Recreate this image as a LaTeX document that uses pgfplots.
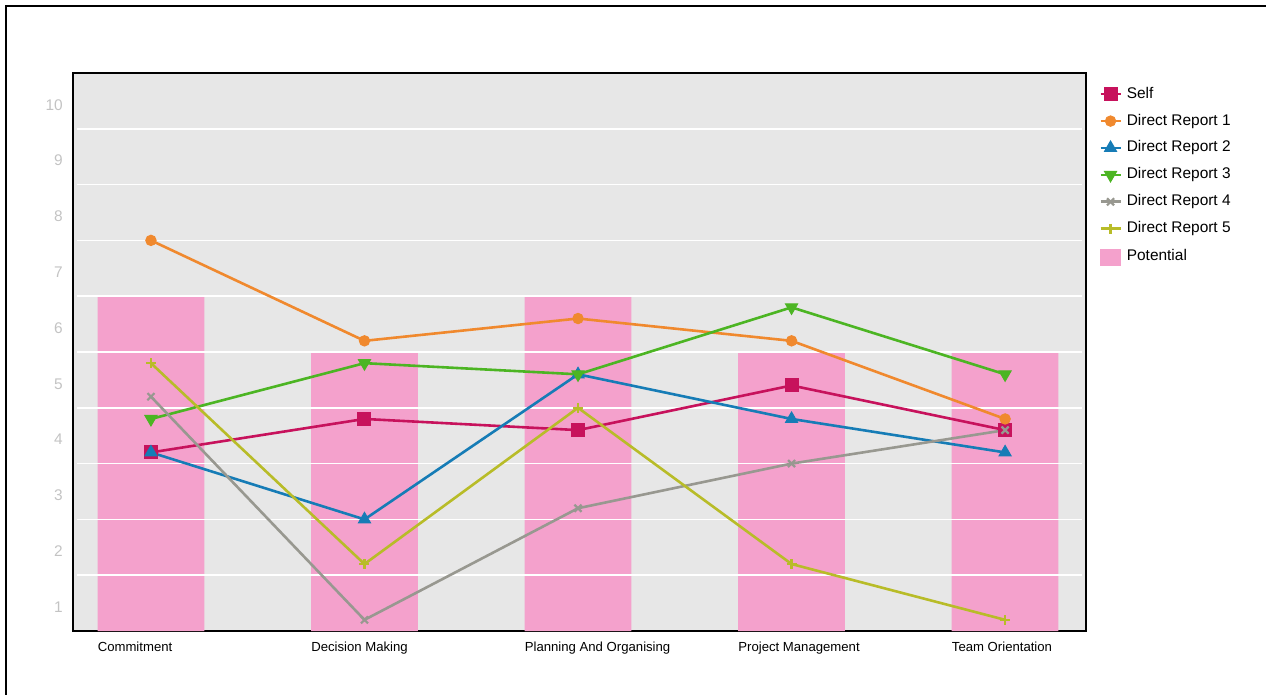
\documentclass[border=0pt]{standalone}
\usepackage{pgfplots}
\pgfplotsset{compat=1.18}
\usepackage{fontspec}
\setmainfont{Liberation Sans}
\definecolor{bgc}{RGB}{231,231,231}
\definecolor{potc}{RGB}{244,161,204}
\definecolor{selfc}{RGB}{199,18,92}
\definecolor{dra}{RGB}{240,137,46}
\definecolor{drb}{RGB}{22,124,182}
\definecolor{drc}{RGB}{76,181,35}
\definecolor{drd}{RGB}{152,152,144}
\definecolor{dre}{RGB}{184,188,40}
\definecolor{ylab}{RGB}{195,195,195}
\begin{document}
\begin{tikzpicture}
\path[use as bounding box] (0,0) rectangle (1266bp,695bp);
\draw[line width=2.5bp] (6bp,0) -- (6bp,689bp) -- (1266bp,689bp);
\begin{axis}[
  at={(73bp,64bp)}, anchor=south west,
  scale only axis, width=1013bp, height=558bp,
  xmin=-0.365, xmax=4.379, ymin=0, ymax=10,
  axis background/.style={fill=bgc},
  axis line style={line width=2.5bp, black},
  xtick={-0.25,0.75,1.75,2.75,3.75},
  xticklabels={Commitment, Decision Making, Planning And Organising, Project Management, Team Orientation},
  ytick={0.43,1.43,2.43,3.43,4.43,5.43,6.43,7.43,8.43,9.43},
  yticklabels={1,2,3,4,5,6,7,8,9,10},
  major tick length=0pt,
  xticklabel style={anchor=north west, inner sep=0pt, yshift=-11bp, font=\fontsize{13.2}{15}\selectfont},
  yticklabel style={anchor=east, inner sep=0pt, xshift=-10bp, font=\fontsize{15.5}{17}\selectfont, text=ylab},
  clip=false,
  legend cell align=left,
  legend style={at={(1,1)}, anchor=north west, xshift=13bp, yshift=-14bp, draw=none, fill=none, inner sep=0pt,
    font=\fontsize{15.5}{17}\selectfont, row sep=12.9bp, column sep=5bp,
    nodes={inner sep=0pt, text height=11bp, text depth=3bp}},
  legend image code/.code={\draw[mark repeat=2,mark phase=2,#1] plot coordinates {(0bp,0bp) (10bp,0bp) (20bp,0bp)};},
]
\addplot[ybar, bar width=0.5, fill=potc, draw=none, forget plot] coordinates {(0,6) (1,5) (2,6) (3,5) (4,5)};
\pgfplotsinvokeforeach{1,...,9}{\addplot[white, line width=1.7bp, forget plot] coordinates {(-0.347,#1) (4.36,#1)};}
\addplot[selfc, line width=2.6bp, mark=square*, mark size=6.5bp, mark options={solid, line width=1bp}] coordinates {(0,3.2) (1,3.8) (2,3.6) (3,4.4) (4,3.6)};
\addlegendentry{Self}
\addplot[dra, line width=2.6bp, mark=*, mark size=5.2bp, mark options={solid, line width=1bp}] coordinates {(0,7.0) (1,5.2) (2,5.6) (3,5.2) (4,3.8)};
\addlegendentry{Direct Report 1}
\addplot[drb, line width=2.6bp, mark=triangle*, mark size=7bp, mark options={solid, line width=1bp}] coordinates {(0,3.2) (1,2.0) (2,4.6) (3,3.8) (4,3.2)};
\addlegendentry{Direct Report 2}
\addplot[drc, line width=2.6bp, mark=triangle*, mark size=7bp, mark options={solid, rotate=180, line width=1bp}] coordinates {(0,3.8) (1,4.8) (2,4.6) (3,5.8) (4,4.6)};
\addlegendentry{Direct Report 3}
\addplot[drd, line width=2.6bp, mark=x, mark size=5bp, mark options={solid, line width=2.2bp}] coordinates {(0,4.2) (1,0.2) (2,2.2) (3,3.0) (4,3.6)};
\addlegendentry{Direct Report 4}
\addplot[dre, line width=2.6bp, mark=+, mark size=5bp, mark options={solid, line width=2.2bp}] coordinates {(0,4.8) (1,1.2) (2,4.0) (3,1.2) (4,0.2)};
\addlegendentry{Direct Report 5}
\addlegendimage{legend image code/.code={\fill[potc] (0bp,-8bp) rectangle (20bp,8bp);}}
\addlegendentry{Potential}
\end{axis}
\end{tikzpicture}
\end{document}
